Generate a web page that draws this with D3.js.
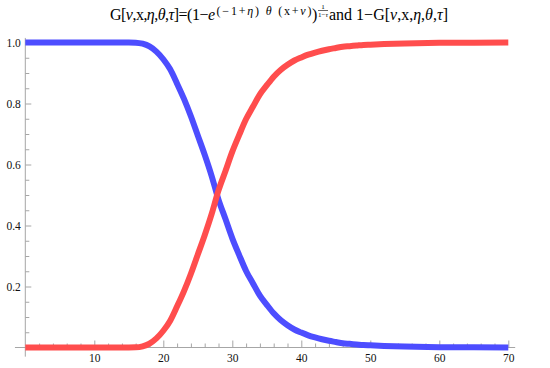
<!DOCTYPE html>
<html>
<head>
<meta charset="utf-8">
<style>
  html, body { margin: 0; padding: 0; background: #fff; }
  svg { display: block; }
</style>
</head>
<body>
<div id="chart"></div>
<script src="https://cdn.jsdelivr.net/npm/d3@7"></script>
<script>
var xs = [0, 5, 10, 14, 15, 16, 17, 18, 19, 20, 21, 22, 23, 24, 25, 26, 27, 28, 29, 30,
          31, 32, 33, 34, 35, 36, 37, 38, 39, 40, 41, 42, 43, 44, 45, 46, 47, 48, 49, 50,
          52, 55, 60, 65, 70];
// G (red, rising)
var gVals = [0, 0, 0, 0, 0, 0.0005, 0.004, 0.013, 0.03, 0.055, 0.088, 0.135, 0.185, 0.242, 0.305, 0.368, 0.437, 0.515, 0.578, 0.642,
             0.697, 0.749, 0.79, 0.83, 0.86, 0.888, 0.91, 0.927, 0.941, 0.951, 0.96, 0.967, 0.973, 0.978, 0.982, 0.986, 0.988, 0.99, 0.992, 0.993,
             0.995, 0.997, 0.999, 0.9995, 1];
// 1 - G (blue, falling)
var oneMinusG = [1, 1, 1, 1, 1, 0.9995, 0.996, 0.987, 0.97, 0.945, 0.912, 0.865, 0.815, 0.758, 0.695, 0.632, 0.563, 0.485, 0.422, 0.358,
                 0.303, 0.251, 0.21, 0.17, 0.14, 0.112, 0.09, 0.073, 0.059, 0.049, 0.04, 0.033, 0.027, 0.022, 0.018, 0.014, 0.012, 0.01, 0.008, 0.007,
                 0.005, 0.003, 0.001, 0.0005, 0];
var xTicks = [10, 20, 30, 40, 50, 60, 70];
var yTicks = [0.2, 0.4, 0.6, 0.8, 1.0];

var width = 550, height = 368;
var serif = "Liberation Serif, Times New Roman, Times, serif";

var svg = d3.select("#chart").append("svg")
    .attr("width", width)
    .attr("height", height);

var x = d3.scaleLinear().domain([0, 70]).range([25.3, 508.3]);
var y = d3.scaleLinear().domain([0, 1]).range([347.5, 42.5]);

var axisColor = "#a6a6a6";

// axis lines (span the padded plot range)
svg.append("line")
    .attr("x1", x(-1.5)).attr("x2", x(71))
    .attr("y1", y(0)).attr("y2", y(0))
    .attr("stroke", axisColor).attr("stroke-width", 1);
svg.append("line")
    .attr("x1", x(0)).attr("x2", x(0))
    .attr("y1", y(1.015)).attr("y2", y(-0.03))
    .attr("stroke", axisColor).attr("stroke-width", 1);

// minor ticks
var xMinor = d3.range(2, 71, 2).filter(function (d) { return d % 10 !== 0; });
var yMinor = d3.range(0.05, 1.01, 0.05).filter(function (d) { return Math.abs(d * 5 - Math.round(d * 5)) > 1e-6; });

function styleAxis(g) {
    g.select(".domain").remove();
    g.selectAll("line").attr("stroke", axisColor);
    g.attr("font-family", null).attr("font-size", null);
    g.selectAll("text")
        .attr("fill", "#111")
        .style("font-family", serif)
        .style("font-size", "11.5px");
}

svg.append("g")
    .attr("transform", "translate(0," + y(0) + ")")
    .call(d3.axisBottom(x).tickValues(xMinor).tickSize(-4).tickFormat(""))
    .call(styleAxis);
svg.append("g")
    .attr("transform", "translate(" + x(0) + ",0)")
    .call(d3.axisLeft(y).tickValues(yMinor).tickSize(-4).tickFormat(""))
    .call(styleAxis);

// major ticks with labels
svg.append("g")
    .attr("transform", "translate(0," + y(0) + ")")
    .call(d3.axisBottom(x).tickValues(xTicks).tickSize(-7).tickPadding(6).tickFormat(d3.format("d")))
    .call(styleAxis);
svg.append("g")
    .attr("transform", "translate(" + x(0) + ",0)")
    .call(d3.axisLeft(y).tickValues(yTicks).tickSize(-6).tickPadding(4.5).tickFormat(d3.format(".1f")))
    .call(styleAxis);

// curves
var line = d3.line()
    .x(function (d) { return x(d[0]); })
    .y(function (d) { return y(d[1]); })
    .curve(d3.curveMonotoneX);

svg.append("path")
    .datum(xs.map(function (v, i) { return [v, oneMinusG[i]]; }))
    .attr("d", line)
    .attr("fill", "none")
    .attr("stroke", "#4d4dff")
    .attr("stroke-width", 6)
    .attr("stroke-linejoin", "round");

svg.append("path")
    .datum(xs.map(function (v, i) { return [v, gVals[i]]; }))
    .attr("d", line)
    .attr("fill", "none")
    .attr("stroke", "#ff4d4d")
    .attr("stroke-width", 6)
    .attr("stroke-linejoin", "round");

// title, built piece by piece
function piece(parts, size, x0, baseline, len) {
    var t = svg.append("text")
        .attr("x", x0)
        .attr("y", baseline)
        .attr("fill", "#000")
        .style("font-family", serif)
        .style("font-size", size + "px");
    if (len) t.attr("textLength", len).attr("lengthAdjust", "spacing");
    parts.forEach(function (p) {
        t.append("tspan")
            .attr("font-style", p[1] ? "italic" : "normal")
            .text(p[0]);
    });
    return t;
}

piece([["G["], ["ν", 1], [",x,"], ["η", 1], [","], ["θ", 1], [","], ["τ", 1], ["]=(1\u2212"], ["e", 1]], 16, 110, 19.5, 105);
piece([["(\u22121+"], ["η", 1], [") "], ["θ", 1], [" (x+"], ["ν", 1], [")"]], 12, 216.5, 14.5, 95);
piece([[")"]], 16, 312, 19.5);
// exponent fraction 1/(1-τ)
piece([["1"]], 7, 323, 8.5).attr("text-anchor", "middle");
svg.append("line")
    .attr("x1", 318).attr("x2", 328)
    .attr("y1", 10.5).attr("y2", 10.5)
    .attr("stroke", "#000").attr("stroke-width", 0.6);
piece([["1\u2212"], ["τ", 1]], 7, 318, 16.5, 10);
piece([["and 1\u2212G["], ["ν", 1], [",x,"], ["η", 1], [","], ["θ", 1], [","], ["τ", 1], ["]"]], 16, 329, 19.5, 119);
</script>
</body>
</html>
